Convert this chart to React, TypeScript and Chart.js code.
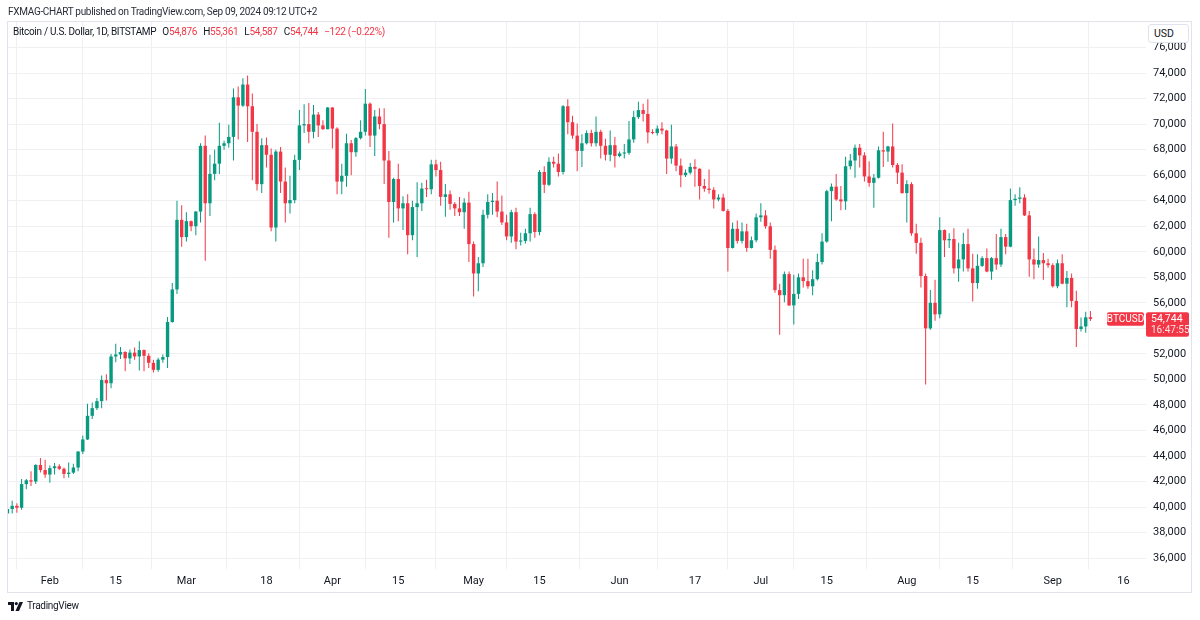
import React, { useEffect, useRef } from "react";
import { Chart, registerables } from "chart.js";

Chart.register(...registerables);

// ---- data (BTC/USD daily, Bitstamp) ----
const SYMBOL = "BTCUSD";
const TITLE = "Bitcoin / U.S. Dollar, 1D, BITSTAMP";
const HEADER = "FXMAG-CHART published on TradingView.com, Sep 09, 2024 09:12 UTC+2";
const COUNTDOWN = "16:47:55";
const FIRST_DAY = 22; // day index in 2024 (Jan 1 = 0) of the first candle: Jan 23

const opens = [
  // Jan 23-31
  39500, 39850, 40100, 39950, 41800, 42100, 42000, 43300, 42900,
  // Feb
  42550, 43050, 43200, 43000, 42600, 42700, 43100, 44350, 45300, 47150, 47750, 48300, 49950, 49700, 51800, 51950, 52150, 51650, 52100, 51800, 52300, 51850, 51300, 50750, 51550, 51750, 54500, 57050, 62500,
  // Mar
  61150, 62400, 62000, 63150, 68300, 63800, 66100, 66900, 68300, 68500, 69000, 72100, 71450, 73100, 71400, 69400, 65300, 68350, 67600, 61900, 67850, 65500, 63800, 64050, 67200, 69900, 70000, 69400, 70750, 69900, 69600,
  // Apr
  71300, 69650, 65500, 65950, 68500, 67800, 68900, 69400, 71600, 69100, 70600, 70000, 67150, 63900, 65700, 63400, 63800, 61300, 63500, 63800, 64950, 64900, 66850, 66400, 64300, 64500, 63750, 63400, 63100, 63850,
  // May
  60600, 58300, 59100, 62900, 63900, 64000, 63150, 62300, 61200, 63100, 60800, 60850, 61450, 62950, 61550, 66250, 65250, 67050, 66900, 66250, 71400, 70150, 69100, 67900, 68500, 69300, 68500, 69400, 68300, 67600, 68350,
  // Jun
  67500, 67700, 67750, 68800, 70550, 71100, 70800, 69350, 69300, 69650, 69500, 67300, 68250, 66750, 66000, 66200, 66650, 66500, 65150, 64950, 64850, 64100, 64250, 63200, 60300, 61800, 60850, 61600, 60300, 60900,
  // Jul
  62700, 62850, 62000, 60150, 57000, 56600, 58250, 55800, 56700, 58000, 57700, 57300, 57850, 59200, 60800, 64750, 65100, 64100, 63950, 66700, 67150, 68150, 67550, 65900, 65400, 65800, 67950, 67850, 68250, 66800, 66200,
  // Aug
  64600, 65300, 61450, 60700, 58100, 54000, 56000, 55100, 61700, 60900, 61000, 58700, 59400, 60600, 58700, 57550, 58900, 59500, 58450, 59500, 59000, 61150, 60400, 64050, 64150, 64250, 62850, 59400, 59000, 59350, 59100,
  // Sep 1-9
  58950, 57300, 59100, 57500, 57950, 56150, 53950, 54150, 54876,
];

const highs = [
  40150, 40500, 40300, 42200, 42200, 42800, 43350, 43850, 43700,
  43250, 43450, 43350, 43100, 43500, 43400, 44400, 45600, 48100, 48200, 48550, 50300, 50400, 52000, 52800, 52550, 52200, 52350, 52500, 53000, 52350, 52050, 51550, 51700, 51950, 54900, 57550, 64000, 63650,
  63100, 62450, 63200, 68500, 69100, 67600, 68000, 70100, 68700, 69950, 72800, 72950, 73600, 73800, 72400, 70000, 68900, 68950, 68100, 68000, 68200, 66600, 65950, 67600, 71100, 71550, 71650, 71500, 70950, 70300, 71350,
  71350, 69750, 66900, 69250, 68750, 69000, 70300, 72750, 71700, 71100, 71250, 71250, 67900, 65800, 66900, 64350, 64500, 64000, 65450, 65400, 65650, 67200, 67200, 67050, 65300, 64800, 63900, 64300, 64200, 64700,
  60800, 59600, 63300, 64500, 64600, 65500, 64400, 62900, 63300, 63450, 61500, 61800, 63450, 63100, 66400, 66700, 67400, 67450, 67700, 71500, 71950, 70650, 70050, 69200, 69500, 69550, 70600, 69550, 68850, 69500, 69000,
  67850, 68450, 70250, 71050, 71750, 71600, 71950, 69600, 69900, 70150, 69550, 69950, 68450, 67300, 66450, 66950, 67250, 66550, 65700, 66450, 65050, 64500, 64550, 63350, 62300, 62450, 62300, 62200, 61200, 63000,
  63800, 63250, 62300, 60500, 57500, 58450, 58450, 58200, 58300, 59450, 59450, 58550, 59850, 61450, 64850, 65350, 66100, 65150, 67450, 67650, 68400, 68450, 67800, 67100, 66100, 68250, 69400, 68300, 70050, 66950, 66850,
  65600, 65450, 62200, 61100, 58300, 57000, 57800, 62700, 61750, 61450, 61850, 60700, 61500, 61800, 59850, 59800, 59650, 60250, 59600, 61400, 61800, 61400, 64950, 64500, 65050, 64500, 63200, 60250, 61200, 59900, 59450,
  59100, 59400, 59800, 58500, 58300, 56950, 54850, 55300, 55361,
];

const lows = [
  38450, 39500, 39550, 39800, 41400, 41650, 41800, 42700, 42300,
  41900, 42550, 42900, 42250, 42300, 42600, 42800, 44150, 45250, 46900, 47600, 47750, 48350, 49300, 51350, 51600, 50650, 51200, 51550, 50700, 50650, 50900, 50550, 50600, 51300, 50900, 54450, 56700, 60400,
  60800, 61600, 61300, 62300, 59300, 62800, 65600, 66100, 68000, 68150, 67150, 68800, 71350, 68600, 65600, 64800, 64600, 66600, 61600, 60800, 64600, 62300, 63000, 63800, 66400, 69300, 68500, 68900, 69000, 69550, 69600,
  68100, 64500, 64500, 65100, 66000, 67450, 68800, 69100, 68200, 67500, 69600, 65300, 61100, 62300, 62400, 61700, 59800, 60900, 59600, 63200, 64300, 64500, 65900, 63600, 62750, 63300, 62800, 62800, 61800, 59200,
  56500, 56900, 58800, 62600, 62900, 62700, 62100, 60900, 60700, 60200, 60500, 60650, 60800, 61100, 61300, 64600, 65150, 66600, 65900, 66050, 69200, 68850, 66300, 66650, 68400, 68250, 68250, 67300, 67150, 67100, 66600,
  67400, 67300, 67600, 68550, 70400, 70200, 68500, 69200, 69100, 69200, 66100, 66900, 66300, 65050, 65850, 66050, 65100, 64100, 64700, 64550, 63400, 63950, 63150, 58450, 60250, 60650, 60650, 60000, 60250, 60750,
  62350, 61800, 59450, 56800, 53500, 56050, 55750, 54300, 56300, 57200, 57100, 56600, 57750, 59000, 60700, 62400, 64000, 63250, 63300, 66450, 65800, 66600, 65500, 65100, 63450, 65750, 66650, 67050, 66600, 65300, 64550,
  62300, 61250, 59850, 57200, 49600, 53900, 54600, 54800, 59600, 60300, 58300, 57650, 58450, 58450, 56100, 57100, 58800, 58400, 57800, 58600, 58800, 59800, 60350, 63600, 63800, 62800, 58050, 57850, 58750, 57800, 58750,
  57200, 57150, 57450, 55650, 55650, 52550, 53750, 53650, 54587,
];

const closes = [
  39850, 40100, 39950, 41800, 42100, 42000, 43300, 42900, 42550,
  43050, 43200, 43000, 42600, 42700, 43100, 44350, 45300, 47150, 47750, 48300, 49950, 49700, 51800, 51950, 52150, 51650, 52100, 51800, 52300, 51850, 51300, 50750, 51550, 51750, 54500, 57050, 62500, 61150,
  62400, 62000, 63150, 68300, 63800, 66100, 66900, 68300, 68500, 69000, 72100, 71450, 73100, 71400, 69400, 65300, 68350, 67600, 61900, 67850, 65500, 63800, 64050, 67200, 69900, 70000, 69400, 70750, 69900, 69600, 71300,
  69650, 65500, 65950, 68500, 67800, 68900, 69400, 71600, 69100, 70600, 70000, 67150, 63900, 65700, 63400, 63800, 61300, 63500, 63800, 64950, 64900, 66850, 66400, 64300, 64500, 63750, 63400, 63100, 63850, 60600,
  58300, 59100, 62900, 63900, 64000, 63150, 62300, 61200, 63100, 60800, 60850, 61450, 62950, 61550, 66250, 65250, 67050, 66900, 66250, 71400, 70150, 69100, 67900, 68500, 69300, 68500, 69400, 68300, 67600, 68350, 67500,
  67700, 67750, 68800, 70550, 71100, 70800, 69350, 69300, 69650, 69500, 67300, 68250, 66750, 66000, 66200, 66650, 66500, 65150, 64950, 64850, 64100, 64250, 63200, 60300, 61800, 60850, 61600, 60300, 60900, 62700,
  62850, 62000, 60150, 57000, 56600, 58250, 55800, 56700, 58000, 57700, 57300, 57850, 59200, 60800, 64750, 65100, 64100, 63950, 66700, 67150, 68150, 67550, 65900, 65400, 65800, 67950, 67850, 68250, 66800, 66200, 64600,
  65300, 61450, 60700, 58100, 54000, 56000, 55100, 61700, 60900, 61000, 58700, 59400, 60600, 58700, 57550, 58900, 59500, 58450, 59500, 59000, 61150, 60400, 64050, 64150, 64250, 62850, 59400, 59000, 59350, 59100, 58950,
  57300, 59100, 57500, 57950, 56150, 53950, 54150, 54866, 54744,
];

// time-axis ticks (day index in 2024) and their labels
const tickDays = [31, 45, 60, 77, 91, 105, 121, 135, 152, 168, 182, 196, 213, 227, 244, 259];
const tickLabels = ["Feb", "15", "Mar", "18", "Apr", "15", "May", "15", "Jun", "17", "Jul", "15", "Aug", "15", "Sep", "16"];
// price-axis ticks
const priceTicks = [36000, 38000, 40000, 42000, 44000, 46000, 48000, 50000, 52000, 54000, 56000, 58000, 60000, 62000, 64000, 66000, 68000, 70000, 72000, 74000, 76000];

// ---- style ----
const UP = "#089981";
const DOWN = "#F23645";
const GRID = "#eef0f4";
const TEXT = "#131722";
const FONT = 'Roboto, "Noto Sans", sans-serif';
const X_MIN = 21.9;
const X_MAX = 263.8;
const Y_MIN = 35150;
const Y_MAX = 78000;

const fmt = (v: number) => Math.round(v).toLocaleString("en-US");

const lastPricePlugin = {
  id: "lastPrice",
  afterDraw(chart: any) {
    const { ctx, chartArea, scales } = chart;
    const last = closes[closes.length - 1];
    const color = last >= opens[opens.length - 1] ? UP : DOWN;
    const y = scales.y.getPixelForValue(last);
    ctx.save();
    ctx.font = `10px ${FONT}`;
    ctx.textBaseline = "middle";
    // symbol tag
    const symW = 37;
    ctx.fillStyle = color;
    ctx.beginPath();
    ctx.roundRect(chartArea.right - symW - 2, y - 6.5, symW, 13.5, 2);
    ctx.fill();
    ctx.fillStyle = "#ffffff";
    ctx.textAlign = "center";
    ctx.fillText(SYMBOL, chartArea.right - 2 - symW / 2, y + 0.5);
    // price tag
    ctx.fillStyle = color;
    ctx.beginPath();
    ctx.roundRect(chartArea.right, y - 6.5, 43, 24.5, 2);
    ctx.fill();
    ctx.fillStyle = "#ffffff";
    ctx.textAlign = "left";
    ctx.font = `10.5px ${FONT}`;
    ctx.fillText(fmt(last), chartArea.right + 5, y + 0.5);
    ctx.font = `10px ${FONT}`;
    ctx.fillStyle = "rgba(255,255,255,0.85)";
    ctx.fillText(COUNTDOWN, chartArea.right + 5, y + 11.5);
    ctx.restore();
  },
};

export default function App() {
  const ref = useRef<HTMLCanvasElement>(null);

  useEffect(() => {
    const canvas = ref.current;
    if (!canvas) return;
    Chart.defaults.font.family = FONT;
    Chart.defaults.font.size = 11;
    Chart.defaults.color = TEXT;
    const xs = closes.map((_, i) => FIRST_DAY + i);
    const colors = closes.map((c, i) => (c >= opens[i] ? UP : DOWN));
    const chart = new Chart(canvas, {
      type: "bar",
      data: {
        datasets: [
          {
            label: "wick",
            data: xs.map((x, i) => ({ x, y: [lows[i], highs[i]] })) as any,
            backgroundColor: colors,
            barThickness: 1,
            grouped: false,
            order: 2,
            inflateAmount: 0,
            borderWidth: 0,
          } as any,
          {
            label: "body",
            data: xs.map((x, i) => ({ x, y: [opens[i], closes[i]] })) as any,
            backgroundColor: colors,
            barThickness: 3.4,
            minBarLength: 1,
            grouped: false,
            order: 1,
            inflateAmount: 0,
            borderWidth: 0,
          } as any,
        ],
      },
      options: {
        responsive: false,
        maintainAspectRatio: false,
        animation: false,
        devicePixelRatio: 1,
        layout: { padding: { left: 7, top: 22, right: 8, bottom: 27 } },
        plugins: { legend: { display: false }, tooltip: { enabled: false } },
        scales: {
          x: {
            type: "linear",
            min: X_MIN,
            max: X_MAX,
            offset: false,
            grid: { color: GRID, drawTicks: false },
            border: { display: false },
            ticks: {
              autoSkip: false,
              maxRotation: 0,
              padding: 6,
              color: TEXT,
              font: { size: 11, family: FONT },
              callback: (v: any) => {
                const k = tickDays.indexOf(Number(v));
                return k >= 0 ? tickLabels[k] : "";
              },
            },
            afterBuildTicks: (axis: any) => {
              axis.ticks = tickDays.map((v) => ({ value: v }));
            },
            afterFit: (axis: any) => {
              axis.height = 24;
            },
          },
          y: {
            type: "linear",
            position: "right",
            min: Y_MIN,
            max: Y_MAX,
            grid: { color: GRID, drawTicks: false },
            border: { display: false },
            ticks: {
              padding: 7,
              color: TEXT,
              font: { size: 11, family: FONT },
              callback: (v: any) => fmt(Number(v)),
            },
            afterBuildTicks: (axis: any) => {
              axis.ticks = priceTicks.map((v) => ({ value: v }));
            },
            afterFit: (axis: any) => {
              axis.width = 46;
            },
          },
        },
      } as any,
      plugins: [lastPricePlugin as any],
    });
    return () => chart.destroy();
  }, []);

  const n = closes.length;
  const o = opens[n - 1];
  const h = highs[n - 1];
  const l = lows[n - 1];
  const c = closes[n - 1];
  const chg = c - closes[n - 2];
  const pct = (chg / closes[n - 2]) * 100;
  const valColor = c >= o ? UP : DOWN;
  const sign = (v: number) => (v < 0 ? "\u2212" : "+");
  const legendVal = (k: string, v: number) => (
    <span style={{ marginLeft: 6 }}>
      <span style={{ color: TEXT }}>{k}</span>
      <span style={{ color: valColor }}>{fmt(v)}</span>
    </span>
  );
  const textStyle = { fontSize: 10, letterSpacing: "-0.3px", whiteSpace: "nowrap" as const, lineHeight: "14px" };

  return (
    <div
      style={{
        position: "absolute",
        left: 0,
        top: 0,
        width: 1200,
        height: 620,
        background: "#ffffff",
        fontFamily: FONT,
        overflow: "hidden",
      }}
    >
      <canvas ref={ref} width={1200} height={620} style={{ position: "absolute", left: 0, top: 0, width: 1200, height: 620 }} />
      <div style={{ position: "absolute", left: 7, top: 21, width: 1185, height: 572, border: "1px solid #e0e3eb", boxSizing: "border-box", pointerEvents: "none" }} />
      <div style={{ position: "absolute", left: 8, top: 5, color: "#2a2e39", ...textStyle }}>{HEADER}</div>
      <div style={{ position: "absolute", left: 13, top: 25, color: TEXT, ...textStyle }}>
        <span>{TITLE}</span>
        {legendVal("O", o)}
        {legendVal("H", h)}
        {legendVal("L", l)}
        {legendVal("C", c)}
        <span style={{ marginLeft: 6, color: valColor }}>
          {sign(chg)}
          {fmt(Math.abs(chg))} ({sign(pct)}
          {Math.abs(pct).toFixed(2)}%)
        </span>
      </div>
      <div
        style={{
          position: "absolute",
          left: 1148,
          top: 24,
          width: 41,
          height: 19,
          border: "1px solid #e0e3eb",
          borderRadius: 3,
          background: "#ffffff",
          boxSizing: "border-box",
          fontSize: 10.5,
          color: TEXT,
          lineHeight: "17px",
          paddingLeft: 5,
        }}
      >
        USD
      </div>
      <div style={{ position: "absolute", left: 8, top: 599, display: "flex", alignItems: "center", color: TEXT, ...textStyle }}>
        <svg width="15" height="9" viewBox="0 0 15 9" style={{ marginRight: 4 }}>
          <rect x="0" y="0" width="6" height="3" fill={TEXT} />
          <rect x="3" y="0" width="3" height="9" fill={TEXT} />
          <circle cx="8.3" cy="1.6" r="1.6" fill={TEXT} />
          <polygon points="11.5,0 15,0 11,9 7.5,9" fill={TEXT} />
        </svg>
        <span>TradingView</span>
      </div>
    </div>
  );
}
